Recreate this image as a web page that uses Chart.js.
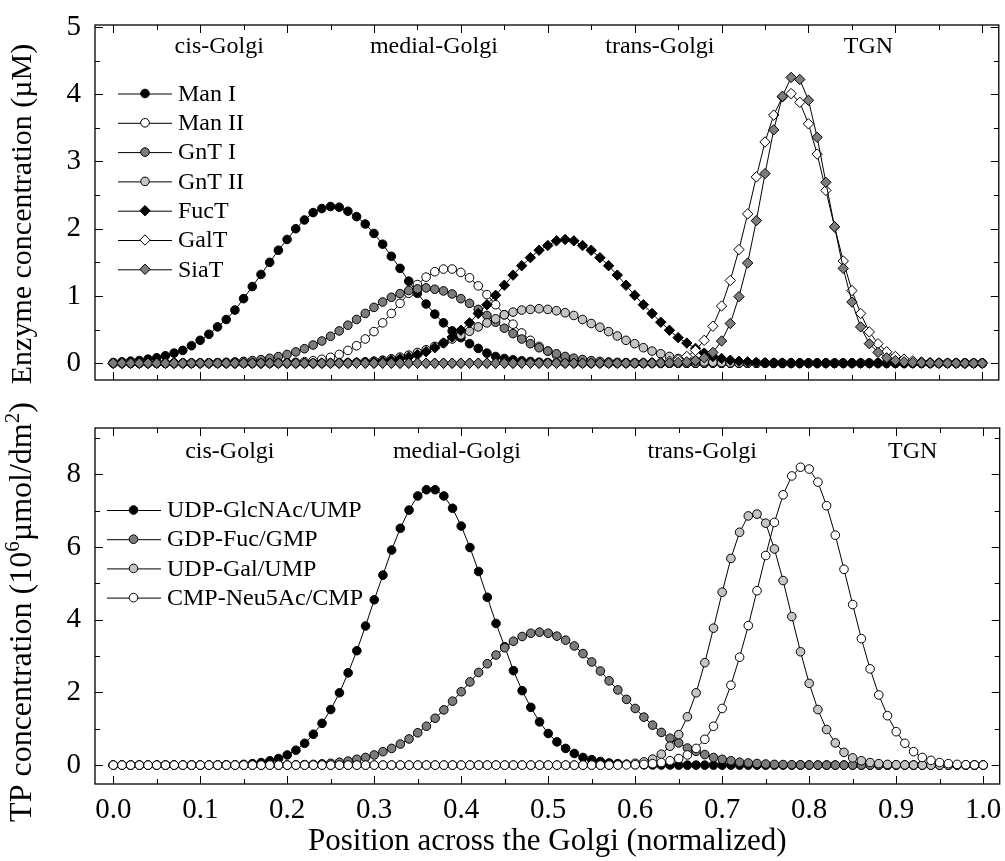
<!DOCTYPE html>
<html>
<head>
<meta charset="utf-8">
<script src="https://cdn.jsdelivr.net/npm/chart.js"></script>
<style>
  body { margin: 0; background: #fff; }
  #wrap { position: relative; width: 1005px; height: 861px; }
  canvas { position: absolute; left: 0; }
  #topChart { top: 0; }
  #bottomChart { top: 390px; }
</style>
</head>
<body>
<div id="wrap">
  <canvas id="topChart" width="1005" height="390"></canvas>
  <canvas id="bottomChart" width="1005" height="471"></canvas>
</div>
<script>
// position across the Golgi (normalized)
const positions = [
  0.00, 0.01, 0.02, 0.03, 0.04, 0.05, 0.06, 0.07, 0.08, 0.09,
  0.10, 0.11, 0.12, 0.13, 0.14, 0.15, 0.16, 0.17, 0.18, 0.19,
  0.20, 0.21, 0.22, 0.23, 0.24, 0.25, 0.26, 0.27, 0.28, 0.29,
  0.30, 0.31, 0.32, 0.33, 0.34, 0.35, 0.36, 0.37, 0.38, 0.39,
  0.40, 0.41, 0.42, 0.43, 0.44, 0.45, 0.46, 0.47, 0.48, 0.49,
  0.50, 0.51, 0.52, 0.53, 0.54, 0.55, 0.56, 0.57, 0.58, 0.59,
  0.60, 0.61, 0.62, 0.63, 0.64, 0.65, 0.66, 0.67, 0.68, 0.69,
  0.70, 0.71, 0.72, 0.73, 0.74, 0.75, 0.76, 0.77, 0.78, 0.79,
  0.80, 0.81, 0.82, 0.83, 0.84, 0.85, 0.86, 0.87, 0.88, 0.89,
  0.90, 0.91, 0.92, 0.93, 0.94, 0.95, 0.96, 0.97, 0.98, 0.99,
  1.00
];

// enzyme concentration (uM), top panel
const manI = [
  0.01, 0.02, 0.03, 0.04, 0.06, 0.08, 0.11, 0.15, 0.19, 0.26,
  0.34, 0.43, 0.54, 0.65, 0.79, 0.96, 1.14, 1.32, 1.50, 1.68,
  1.84, 2.00, 2.13, 2.24, 2.30, 2.33, 2.32, 2.26, 2.18, 2.07,
  1.93, 1.77, 1.59, 1.41, 1.22, 1.04, 0.88, 0.73, 0.60, 0.48,
  0.38, 0.29, 0.22, 0.15, 0.10, 0.07, 0.05, 0.035, 0.025, 0.015,
  0.01, 0.006, 0.004, 0.002, 0.001, 0, 0, 0, 0, 0,
  0, 0, 0, 0, 0, 0, 0, 0, 0, 0,
  0, 0, 0, 0, 0, 0, 0, 0, 0, 0,
  0, 0, 0, 0, 0, 0, 0, 0, 0, 0,
  0, 0, 0, 0, 0, 0, 0, 0, 0, 0,
  0
];
const manII = [
  0, 0, 0, 0, 0, 0, 0, 0, 0, 0,
  0, 0, 0, 0, 0, 0, 0, 0.001, 0.002, 0.004,
  0.008, 0.013, 0.022, 0.036, 0.057, 0.088, 0.13, 0.19, 0.26, 0.36,
  0.47, 0.60, 0.74, 0.89, 1.04, 1.17, 1.28, 1.36, 1.40, 1.40,
  1.35, 1.27, 1.15, 1.02, 0.87, 0.72, 0.58, 0.45, 0.34, 0.25,
  0.18, 0.12, 0.08, 0.05, 0.03, 0.02, 0.012, 0.007, 0.004, 0.002,
  0.001, 0, 0, 0, 0, 0, 0, 0, 0, 0,
  0, 0, 0, 0, 0, 0, 0, 0, 0, 0,
  0, 0, 0, 0, 0, 0, 0, 0, 0, 0,
  0, 0, 0, 0, 0, 0, 0, 0, 0, 0,
  0
];
const gntI = [
  0, 0, 0, 0, 0, 0, 0, 0, 0.001, 0.002,
  0.004, 0.006, 0.009, 0.013, 0.019, 0.027, 0.038, 0.053, 0.073, 0.098,
  0.129, 0.168, 0.215, 0.27, 0.33, 0.40, 0.48, 0.565, 0.65, 0.74,
  0.83, 0.91, 0.98, 1.035, 1.08, 1.105, 1.12, 1.10, 1.075, 1.03,
  0.96, 0.89, 0.80, 0.71, 0.61, 0.52, 0.44, 0.36, 0.29, 0.23,
  0.18, 0.14, 0.10, 0.074, 0.054, 0.038, 0.026, 0.018, 0.012, 0.008,
  0.005, 0.003, 0.002, 0.001, 0, 0, 0, 0, 0, 0,
  0, 0, 0, 0, 0, 0, 0, 0, 0, 0,
  0, 0, 0, 0, 0, 0, 0, 0, 0, 0,
  0, 0, 0, 0, 0, 0, 0, 0, 0, 0,
  0
];
const gntII = [
  0, 0, 0, 0, 0, 0, 0, 0, 0, 0,
  0, 0, 0, 0, 0, 0, 0, 0, 0, 0,
  0, 0, 0, 0, 0, 0.002, 0.004, 0.007, 0.012, 0.02,
  0.03, 0.045, 0.065, 0.09, 0.12, 0.16, 0.20, 0.25, 0.30, 0.36,
  0.42, 0.475, 0.54, 0.60, 0.66, 0.72, 0.76, 0.79, 0.80, 0.81,
  0.80, 0.78, 0.75, 0.71, 0.65, 0.59, 0.535, 0.47, 0.405, 0.34,
  0.29, 0.23, 0.18, 0.14, 0.10, 0.07, 0.05, 0.035, 0.02, 0.015,
  0.01, 0.005, 0.002, 0.001, 0, 0, 0, 0, 0, 0,
  0, 0, 0, 0, 0, 0, 0, 0, 0, 0,
  0, 0, 0, 0, 0, 0, 0, 0, 0, 0,
  0
];
const fucT = [
  0, 0, 0, 0, 0, 0, 0, 0, 0, 0,
  0, 0, 0, 0, 0, 0, 0, 0, 0, 0,
  0, 0, 0, 0, 0.001, 0.002, 0.003, 0.005, 0.008, 0.013,
  0.02, 0.03, 0.045, 0.065, 0.09, 0.125, 0.17, 0.23, 0.30, 0.39,
  0.49, 0.60, 0.74, 0.87, 1.01, 1.16, 1.31, 1.45, 1.57, 1.68,
  1.75, 1.82, 1.84, 1.82, 1.75, 1.68, 1.57, 1.45, 1.31, 1.16,
  1.01, 0.87, 0.74, 0.61, 0.49, 0.38, 0.30, 0.22, 0.15, 0.10,
  0.07, 0.045, 0.03, 0.02, 0.012, 0.007, 0.004, 0.002, 0.001, 0,
  0, 0, 0, 0, 0, 0, 0, 0, 0, 0,
  0, 0, 0, 0, 0, 0, 0, 0, 0, 0,
  0
];
const galT = [
  0, 0, 0, 0, 0, 0, 0, 0, 0, 0,
  0, 0, 0, 0, 0, 0, 0, 0, 0, 0,
  0, 0, 0, 0, 0, 0, 0, 0, 0, 0,
  0, 0, 0, 0, 0, 0, 0, 0, 0, 0,
  0, 0, 0, 0, 0, 0, 0, 0, 0, 0,
  0, 0, 0, 0, 0, 0, 0, 0, 0, 0.001,
  0.002, 0.004, 0.008, 0.015, 0.03, 0.05, 0.10, 0.19, 0.34, 0.55,
  0.85, 1.23, 1.69, 2.22, 2.77, 3.29, 3.69, 3.96, 4.01, 3.88,
  3.56, 3.11, 2.57, 2.03, 1.52, 1.08, 0.74, 0.465, 0.29, 0.17,
  0.10, 0.06, 0.035, 0.02, 0.01, 0.005, 0.002, 0.001, 0, 0,
  0
];
const siaT = [
  0, 0, 0, 0, 0, 0, 0, 0, 0, 0,
  0, 0, 0, 0, 0, 0, 0, 0, 0, 0,
  0, 0, 0, 0, 0, 0, 0, 0, 0, 0,
  0, 0, 0, 0, 0, 0, 0, 0, 0, 0,
  0, 0, 0, 0, 0, 0, 0, 0, 0, 0,
  0, 0, 0, 0, 0, 0, 0, 0, 0, 0,
  0, 0, 0, 0.002, 0.005, 0.01, 0.02, 0.04, 0.08, 0.16,
  0.33, 0.59, 0.99, 1.49, 2.12, 2.82, 3.47, 3.97, 4.25, 4.22,
  3.91, 3.36, 2.69, 2.03, 1.41, 0.91, 0.54, 0.29, 0.16, 0.08,
  0.04, 0.02, 0.01, 0.005, 0.002, 0, 0, 0, 0, 0,
  0
];

// TP concentration (10^6 umol/dm^2), bottom panel
const udpGlcNAc = [
  0, 0, 0, 0, 0, 0, 0, 0, 0, 0,
  0, 0.001, 0.002, 0.005, 0.01, 0.02, 0.04, 0.07, 0.12, 0.18,
  0.28, 0.41, 0.60, 0.85, 1.15, 1.53, 1.99, 2.54, 3.15, 3.83,
  4.55, 5.23, 5.92, 6.52, 7.02, 7.41, 7.58, 7.58, 7.41, 7.07,
  6.58, 5.99, 5.33, 4.62, 3.90, 3.26, 2.60, 2.05, 1.59, 1.19,
  0.87, 0.64, 0.46, 0.32, 0.21, 0.15, 0.10, 0.06, 0.04, 0.02,
  0.012, 0.007, 0.004, 0.002, 0.001, 0, 0, 0, 0, 0,
  0, 0, 0, 0, 0, 0, 0, 0, 0, 0,
  0, 0, 0, 0, 0, 0, 0, 0, 0, 0,
  0, 0, 0, 0, 0, 0, 0, 0, 0, 0,
  0
];
const gdpFuc = [
  0, 0, 0, 0, 0, 0, 0, 0, 0, 0,
  0, 0, 0, 0, 0, 0, 0, 0.001, 0.002, 0.003,
  0.005, 0.009, 0.014, 0.02, 0.035, 0.05, 0.08, 0.11, 0.16, 0.21,
  0.28, 0.37, 0.46, 0.58, 0.72, 0.89, 1.07, 1.29, 1.52, 1.76,
  2.02, 2.29, 2.55, 2.79, 3.03, 3.23, 3.41, 3.54, 3.63, 3.66,
  3.63, 3.55, 3.44, 3.28, 3.07, 2.84, 2.59, 2.32, 2.07, 1.81,
  1.56, 1.32, 1.10, 0.90, 0.74, 0.61, 0.47, 0.38, 0.29, 0.21,
  0.16, 0.12, 0.08, 0.06, 0.045, 0.03, 0.02, 0.015, 0.01, 0.007,
  0.004, 0.002, 0.001, 0, 0, 0, 0, 0, 0, 0,
  0, 0, 0, 0, 0, 0, 0, 0, 0, 0,
  0
];
const udpGal = [
  0, 0, 0, 0, 0, 0, 0, 0, 0, 0,
  0, 0, 0, 0, 0, 0, 0, 0, 0, 0,
  0, 0, 0, 0, 0, 0, 0, 0, 0, 0,
  0, 0, 0, 0, 0, 0, 0, 0, 0, 0,
  0, 0, 0, 0, 0, 0, 0, 0, 0, 0,
  0, 0, 0, 0, 0, 0.001, 0.003, 0.006, 0.012, 0.025,
  0.05, 0.09, 0.165, 0.30, 0.52, 0.84, 1.33, 1.99, 2.82, 3.77,
  4.76, 5.69, 6.41, 6.86, 6.91, 6.66, 5.95, 5.08, 4.09, 3.12,
  2.25, 1.53, 0.98, 0.61, 0.35, 0.20, 0.12, 0.07, 0.04, 0.02,
  0.01, 0.005, 0.002, 0.001, 0, 0, 0, 0, 0, 0,
  0
];
const cmpNeu5Ac = [
  0, 0, 0, 0, 0, 0, 0, 0, 0, 0,
  0, 0, 0, 0, 0, 0, 0, 0, 0, 0,
  0, 0, 0, 0, 0, 0, 0, 0, 0, 0,
  0, 0, 0, 0, 0, 0, 0, 0, 0, 0,
  0, 0, 0, 0, 0, 0, 0, 0, 0, 0,
  0, 0, 0, 0, 0, 0, 0, 0.001, 0.002, 0.005,
  0.01, 0.02, 0.04, 0.07, 0.12, 0.18, 0.28, 0.46, 0.71, 1.07,
  1.56, 2.20, 2.97, 3.84, 4.80, 5.77, 6.68, 7.44, 7.96, 8.20,
  8.15, 7.79, 7.14, 6.33, 5.39, 4.42, 3.48, 2.65, 1.93, 1.36,
  0.92, 0.60, 0.37, 0.21, 0.13, 0.07, 0.04, 0.02, 0.01, 0.005,
  0.002
];

const topTicks = [0, 1, 2, 3, 4, 5];
const bottomTicks = [0, 2, 4, 6, 8];
const regionNames = ['cis-Golgi', 'medial-Golgi', 'trans-Golgi', 'TGN'];

const SERIF = '"Liberation Serif", "Times New Roman", Times, serif';
const BLACK = '#000000', DARK = '#7c7c7c', LIGHT = '#c4c4c4', WHITE = '#ffffff';

const topSeries = [
  { label: 'Man I', data: manI, fill: BLACK, shape: 'circle' },
  { label: 'Man II', data: manII, fill: WHITE, shape: 'circle' },
  { label: 'GnT I', data: gntI, fill: DARK, shape: 'circle' },
  { label: 'GnT II', data: gntII, fill: LIGHT, shape: 'circle' },
  { label: 'FucT', data: fucT, fill: BLACK, shape: 'rectRot' },
  { label: 'GalT', data: galT, fill: WHITE, shape: 'rectRot' },
  { label: 'SiaT', data: siaT, fill: DARK, shape: 'rectRot' }
];
const bottomSeries = [
  { label: 'UDP-GlcNAc/UMP', data: udpGlcNAc, fill: BLACK, shape: 'circle' },
  { label: 'GDP-Fuc/GMP', data: gdpFuc, fill: DARK, shape: 'circle' },
  { label: 'UDP-Gal/UMP', data: udpGal, fill: LIGHT, shape: 'circle' },
  { label: 'CMP-Neu5Ac/CMP', data: cmpNeu5Ac, fill: WHITE, shape: 'circle' }
];

function makeDatasets(series) {
  return series.map((s, i) => ({
    label: s.label,
    data: s.data,
    borderColor: BLACK,
    borderWidth: 1,
    backgroundColor: s.fill,
    pointStyle: s.shape,
    pointRadius: s.shape === 'circle' ? 4.3 : 5.2,
    pointBorderColor: BLACK,
    pointBackgroundColor: s.fill,
    pointBorderWidth: 1,
    tension: 0,
    // later series are drawn on top
    order: series.length - i
  }));
}

function drawMarker(ctx, shape, fill, x, y) {
  ctx.beginPath();
  if (shape === 'circle') {
    ctx.arc(x, y, 4.3, 0, Math.PI * 2);
  } else {
    ctx.moveTo(x, y - 5.2); ctx.lineTo(x + 5.2, y); ctx.lineTo(x, y + 5.2); ctx.lineTo(x - 5.2, y);
    ctx.closePath();
  }
  ctx.fillStyle = fill;
  ctx.fill();
  ctx.lineWidth = 1;
  ctx.strokeStyle = BLACK;
  ctx.stroke();
}

// rotated y title, parts may be raised (superscripts)
function drawYTitle(ctx, parts, cx, cy) {
  ctx.save();
  ctx.translate(cx, cy);
  ctx.rotate(-Math.PI / 2);
  ctx.fillStyle = BLACK;
  ctx.textBaseline = 'middle';
  ctx.textAlign = 'left';
  let total = 0;
  parts.forEach(p => { ctx.font = p.size + 'px ' + SERIF; total += ctx.measureText(p.text).width; });
  let x = -total / 2;
  parts.forEach(p => {
    ctx.font = p.size + 'px ' + SERIF;
    ctx.fillText(p.text, x, -(p.raise || 0));
    x += ctx.measureText(p.text).width;
  });
  ctx.restore();
}

// keep the plot box where it is in the figure: no extra room for edge labels
function noEdgePadding(s) {
  s.paddingTop = 0; s.paddingBottom = 0; s.paddingLeft = 0; s.paddingRight = 0;
}

const decor = {
  id: 'decor',
  afterDatasetsDraw(chart, args, o) {
    const { ctx, chartArea: a, scales: { x, y } } = chart;
    ctx.save();
    ctx.strokeStyle = BLACK;
    ctx.lineWidth = 1.3;
    ctx.strokeRect(a.left, a.top, a.right - a.left, a.bottom - a.top);
    ctx.lineWidth = 1;
    ctx.beginPath();
    for (let k = 0; k <= 20; k++) {
      const px = Math.round(x.getPixelForValue(k * 0.05)) + 0.5;
      const len = k % 2 === 0 ? 8 : 5;
      ctx.moveTo(px, a.bottom); ctx.lineTo(px, a.bottom - len);
      ctx.moveTo(px, a.top); ctx.lineTo(px, a.top + len);
    }
    for (let k = 0; k * o.yMinor <= o.yTop + 1e-9; k++) {
      const py = Math.round(y.getPixelForValue(k * o.yMinor)) + 0.5;
      const len = k % 2 === 0 ? 8 : 5;
      ctx.moveTo(a.left, py); ctx.lineTo(a.left + len, py);
      ctx.moveTo(a.right, py); ctx.lineTo(a.right - len, py);
    }
    ctx.stroke();
    ctx.restore();
  },
  afterDraw(chart, args, o) {
    const { ctx, scales: { x } } = chart;
    ctx.save();
    ctx.fillStyle = BLACK;
    ctx.font = '24px ' + SERIF;
    ctx.textAlign = 'center';
    ctx.textBaseline = 'middle';
    regionNames.forEach((name, i) => {
      ctx.fillText(name, x.getPixelForValue(o.regionAt[i]), o.regionY);
    });
    // legend: line - marker - line, then label
    const L = o.legend;
    chart.data.datasets.forEach((ds, i) => {
      const ly = L.y0 + i * L.dy;
      ctx.beginPath();
      ctx.strokeStyle = BLACK;
      ctx.lineWidth = 1;
      ctx.moveTo(L.x1, ly + 0.5); ctx.lineTo(L.x2, ly + 0.5);
      ctx.stroke();
      drawMarker(ctx, ds.pointStyle, ds.pointBackgroundColor, L.xm, ly);
      ctx.fillStyle = BLACK;
      ctx.font = '24px ' + SERIF;
      ctx.textAlign = 'left';
      ctx.textBaseline = 'middle';
      ctx.fillText(ds.label, L.xt, ly + 1);
    });
    ctx.restore();
    drawYTitle(ctx, o.yTitle, o.yTitleX, o.yTitleY);
  }
};

const tickFont = { family: SERIF, size: 29 };

new Chart(document.getElementById('topChart'), {
  type: 'line',
  data: { labels: positions, datasets: makeDatasets(topSeries) },
  options: {
    responsive: false,
    animation: false,
    events: [],
    layout: { padding: { top: 25, right: 5, bottom: 10, left: 0 } },
    plugins: {
      legend: { display: false },
      tooltip: { enabled: false },
      decor: {
        yMinor: 0.5, yTop: 5,
        regionAt: [0.122, 0.369, 0.629, 0.869], regionY: 47,
        legend: { x1: 118, x2: 172, xm: 145, xt: 178, y0: 93.5, dy: 29.3 },
        yTitle: [{ text: 'Enzyme concentration (\u00B5M)', size: 30 }],
        yTitleX: 23, yTitleY: 214
      }
    },
    scales: {
      x: { type: 'linear', min: -0.021, max: 1.019, display: false },
      y: {
        min: -0.25, max: 5.03,
        grid: { display: false }, border: { display: false },
        afterBuildTicks(s) { s.ticks = topTicks.map(v => ({ value: v })); },
        ticks: { padding: 6, color: BLACK, font: tickFont },
        afterFit(s) { s.width = 95; noEdgePadding(s); }
      }
    }
  },
  plugins: [decor]
});

new Chart(document.getElementById('bottomChart'), {
  type: 'line',
  data: { labels: positions, datasets: makeDatasets(bottomSeries) },
  options: {
    responsive: false,
    animation: false,
    events: [],
    layout: { padding: { top: 38, right: 5, bottom: 0, left: 0 } },
    plugins: {
      legend: { display: false },
      tooltip: { enabled: false },
      decor: {
        yMinor: 1, yTop: 9,
        regionAt: [0.134, 0.395, 0.677, 0.919], regionY: 62,
        legend: { x1: 107, x2: 161, xm: 133.5, xt: 167, y0: 120, dy: 29.2 },
        yTitle: [
          { text: 'TP concentration (10', size: 32 },
          { text: '6', size: 21, raise: 10 },
          { text: '\u00B5mol/dm', size: 32 },
          { text: '2', size: 21, raise: 10 },
          { text: ')', size: 32 }
        ],
        yTitleX: 23, yTitleY: 222
      }
    },
    scales: {
      x: {
        type: 'linear', min: -0.021, max: 1.019,
        grid: { display: false }, border: { display: false },
        afterBuildTicks(s) { s.ticks = positions.filter((p, i) => i % 10 === 0).map(v => ({ value: v })); },
        ticks: { padding: 1, maxRotation: 0, autoSkip: false, color: BLACK, font: tickFont,
                 callback: v => Number(v).toFixed(1) },
        title: { display: true, text: 'Position across the Golgi (normalized)', color: BLACK,
                 font: { family: SERIF, size: 31 }, padding: { top: 2, bottom: 1 } },
        afterFit(s) { s.height = 77; noEdgePadding(s); }
      },
      y: {
        min: -0.52, max: 9.28,
        grid: { display: false }, border: { display: false },
        afterBuildTicks(s) { s.ticks = bottomTicks.map(v => ({ value: v })); },
        ticks: { padding: 6, color: BLACK, font: tickFont },
        afterFit(s) { s.width = 95; noEdgePadding(s); }
      }
    }
  },
  plugins: [decor]
});
</script>
</body>
</html>
